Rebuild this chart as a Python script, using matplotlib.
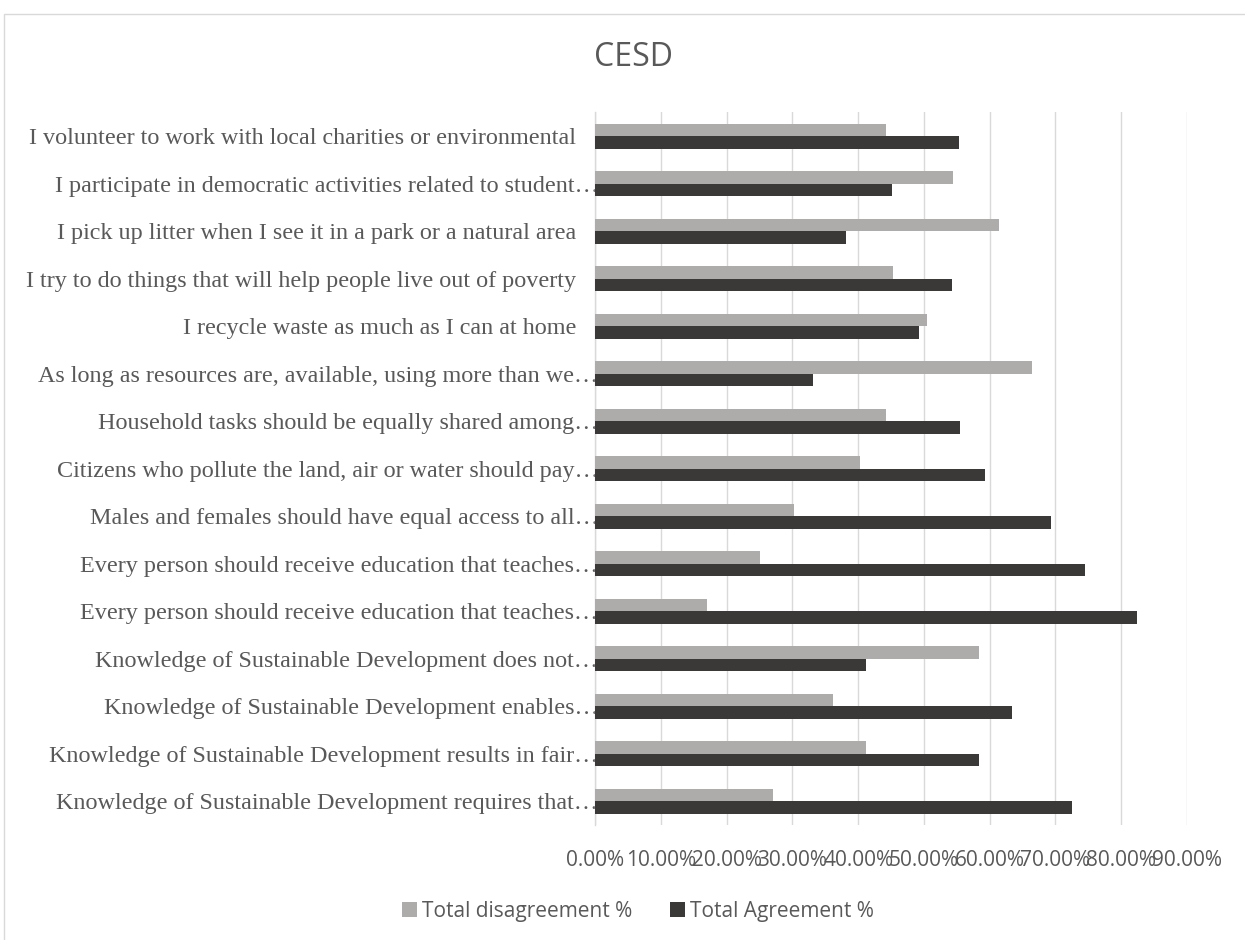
import matplotlib
matplotlib.use("Agg")
import matplotlib.pyplot as plt
import numpy as np
from matplotlib.patches import Rectangle
from matplotlib.transforms import ScaledTranslation

# Survey statements, listed top to bottom as shown on the chart
categories = [
    "I volunteer to work with local charities or environmental",
    "I participate in democratic activities related to student\u2026",
    "I pick up litter when I see it in a park or a natural area",
    "I try to do things that will help people live out of poverty",
    "I recycle waste as much as I can at home",
    "As long as resources are, available, using more than we\u2026",
    "Household tasks should be equally shared among\u2026",
    "Citizens who pollute the land, air or water should pay\u2026",
    "Males and females should have equal access to all\u2026",
    "Every person should receive education that teaches\u2026",
    "Every person should receive education that teaches\u2026",
    "Knowledge of Sustainable Development does not\u2026",
    "Knowledge of Sustainable Development enables\u2026",
    "Knowledge of Sustainable Development results in fair\u2026",
    "Knowledge of Sustainable Development requires that\u2026",
]
disagreement = [44.2, 54.4, 61.4, 45.3, 50.4, 66.5, 44.2, 40.3, 30.3, 25.1, 17.1, 58.4, 36.2, 41.2, 27.1]
agreement = [55.4, 45.2, 38.2, 54.3, 49.3, 33.1, 55.5, 59.3, 69.4, 74.5, 82.4, 41.2, 63.4, 58.4, 72.5]
x_ticks = [0, 10, 20, 30, 40, 50, 60, 70, 80, 90]
series_names = ["Total disagreement %", "Total Agreement %"]
title = "CESD"

GREY = "#AEABAB"
DARK = "#3B3838"
TEXT = "#595959"
GRID = "#D9D9D9"

W, H = 1245, 940
fig = plt.figure(figsize=(W / 100, H / 100), dpi=100)

# outer chart frame
fig.patches.append(Rectangle((4 / W, -0.05), 1.2, 1 - 14 / H + 0.05,
                             transform=fig.transFigure, fill=False,
                             edgecolor=GRID, linewidth=1.0))

left, right = 595.0 / W, 1187.0 / W
top, bottom = 1 - 112.3 / H, 1 - 824.8 / H
ax = fig.add_axes([left, bottom, right - left, top - bottom])

n = len(categories)
y = np.arange(n)[::-1]
h = 0.263
ax.barh(y + h / 2, disagreement, height=h, color=GREY, label=series_names[0], zorder=3)
ax.barh(y - h / 2, agreement, height=h, color=DARK, label=series_names[1], zorder=3)

ax.set_xlim(0, 90)
ax.set_ylim(-0.5, n - 0.5)
ax.set_xticks(x_ticks)
ax.set_xticklabels([f"{v:.2f}%" for v in x_ticks], fontsize=15,
                   family="Open Sans", color=TEXT)
ax.set_yticks(y)
ax.set_yticklabels(categories, fontsize=17.4, family="Liberation Serif", color=TEXT)
ax.tick_params(axis="x", length=0, pad=18)
ax.tick_params(axis="y", length=0, pad=-2.4)

for lbl in ax.get_yticklabels():
    if not lbl.get_text().endswith("\u2026"):
        lbl.set_transform(lbl.get_transform() + ScaledTranslation(-0.22, 0, fig.dpi_scale_trans))

ax.grid(axis="x", color=GRID, linewidth=1.0, zorder=0)
for s in ["top", "right", "bottom"]:
    ax.spines[s].set_visible(False)
ax.spines["left"].set_color(GRID)
ax.spines["left"].set_linewidth(1.0)
ax.set_facecolor("none")

fig.text(633 / W, 1 - 57.7 / H, title, ha="center", va="center",
         fontsize=23, family="Open Sans", color=TEXT)

leg = ax.legend(loc="center", bbox_to_anchor=(638 / W, 1 - 911 / H),
                bbox_transform=fig.transFigure, ncol=2, frameon=False,
                prop={"family": "Open Sans", "size": 15},
                handlelength=0.7, handleheight=0.7, handletextpad=0.25,
                columnspacing=1.8, borderpad=0)
for t in leg.get_texts():
    t.set_color(TEXT)

fig.savefig("out.png", dpi=100)
